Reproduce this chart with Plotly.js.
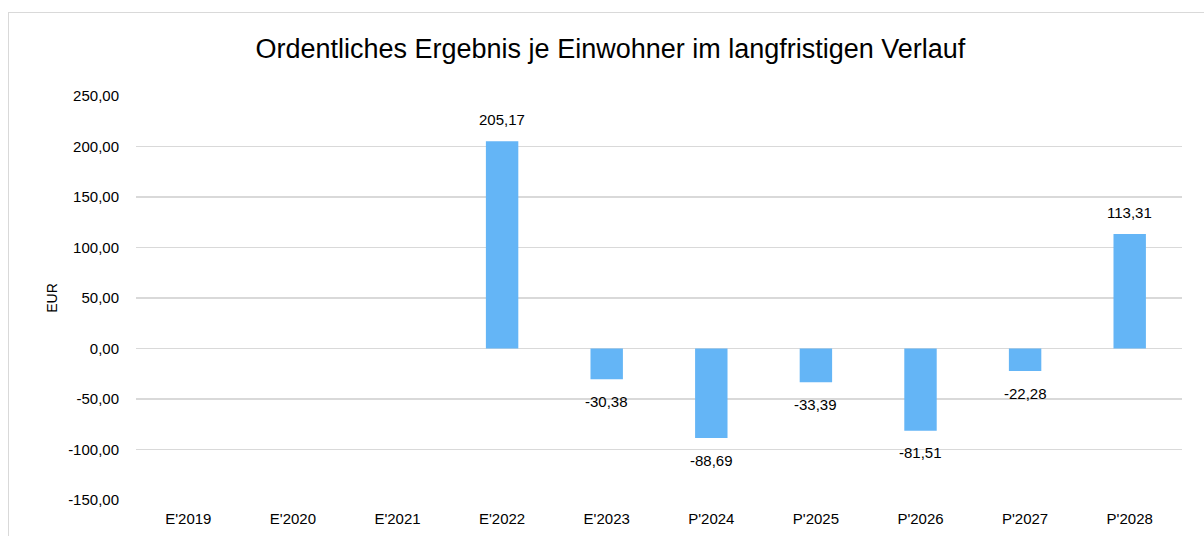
<!DOCTYPE html>
<html>
<head>
<meta charset="utf-8">
<script src="https://cdn.plot.ly/plotly-3.0.1.min.js"></script>
<style>
  html, body { margin: 0; padding: 0; background: #fff; overflow: hidden; }
  #chart { width: 1204px; height: 536px; }
  #frame { position: absolute; left: 8px; top: 12px; width: 1300px; height: 700px;
           border: 1.5px solid #d9d9d9; pointer-events: none; box-sizing: border-box; }
</style>
</head>
<body>
<div id="chart"></div>
<div id="frame"></div>
<script>
const categories = ["E'2019", "E'2020", "E'2021", "E'2022", "E'2023", "P'2024", "P'2025", "P'2026", "P'2027", "P'2028"];
const values = [null, null, null, 205.17, -30.38, -88.69, -33.39, -81.51, -22.28, 113.31];
const yTickVals = [-150, -100, -50, 0, 50, 100, 150, 200, 250];
const yTickText = ["-150,00", "-100,00", "-50,00", "0,00", "50,00", "100,00", "150,00", "200,00", "250,00"];

const fmt = v => v.toFixed(2).replace('.', ',');
const font = 'Liberation Sans, Arial, sans-serif';

const annotations = [];
categories.forEach((c, i) => {
  const v = values[i];
  if (v === null) return;
  annotations.push({
    x: c, y: v, xref: 'x', yref: 'y', text: fmt(v), showarrow: false,
    yanchor: 'middle', yshift: v >= 0 ? 22 : -22,
    font: { family: font, size: 15, color: '#000' }
  });
});

const trace = {
  type: 'bar', x: categories, y: values, width: 0.31,
  marker: { color: '#64B5F6', line: { width: 0 } },
  hoverinfo: 'none'
};

const layout = {
  width: 1204, height: 536,
  margin: { l: 136, r: 22, t: 96, b: 36 },
  paper_bgcolor: '#fff', plot_bgcolor: '#fff',
  showlegend: false,
  title: { text: 'Ordentliches Ergebnis je Einwohner im langfristigen Verlauf',
           font: { family: font, size: 27, color: '#000' },
           x: 0.507, xanchor: 'center', y: 0.91, yanchor: 'middle' },
  xaxis: {
    type: 'category', showgrid: false, zeroline: false, showline: false,
    ticks: 'outside', ticklen: 5, tickcolor: 'rgba(0,0,0,0)',
    tickfont: { family: font, size: 15, color: '#000' }
  },
  yaxis: {
    range: [-150, 250], tickvals: yTickVals, ticktext: yTickText,
    showgrid: true, gridcolor: '#d9d9d9', gridwidth: 1.3,
    zeroline: false, showline: false,
    ticks: 'outside', ticklen: 13, tickcolor: 'rgba(0,0,0,0)',
    tickfont: { family: font, size: 15, color: '#000' },
    title: { text: 'EUR', font: { family: font, size: 14, color: '#000' }, standoff: 7 }
  },
  annotations: annotations
};

Plotly.newPlot('chart', [trace], layout, { staticPlot: true, displayModeBar: false });
</script>
</body>
</html>
